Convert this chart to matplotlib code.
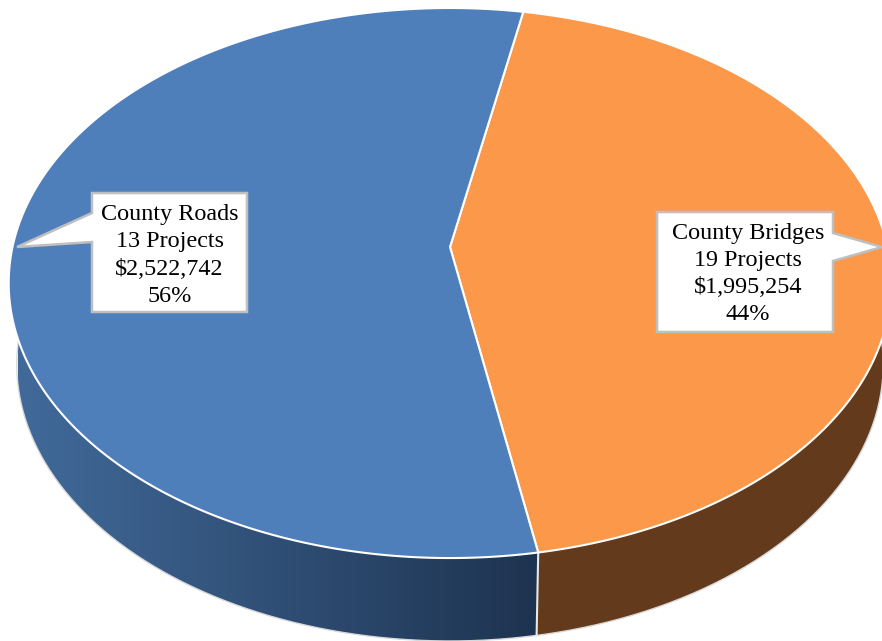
import numpy as np
import matplotlib.pyplot as plt
from matplotlib.colors import LinearSegmentedColormap
from matplotlib.patches import Polygon

categories = ["County Bridges", "County Roads"]
projects = [19, 13]
amounts = [1995254, 2522742]

top_colors = ["#fb984a", "#4f7fbb"]
start_angle = 10.9

# perspective of the pie, pixels
tilt = 0.131
W, H = 882, 641


def rim(theta, a, b, y0, x0=450):
    # theta in degrees, clockwise from the top of the circle
    t = np.radians(theta)
    px, py = np.sin(t), np.cos(t)
    d = 1 + tilt * py
    return x0 + a * px / d, y0 - b * py / d


def top_rim(theta):
    return rim(theta, 437.5, 270.3, 247)


def low_rim(theta):
    return rim(theta, 429.5, 272, 328)


shares = np.array(amounts) / sum(amounts)
edges = start_angle + np.concatenate([[0], np.cumsum(shares) * 360])

fig = plt.figure(figsize=(W / 100, H / 100), dpi=100)
ax = fig.add_axes([0, 0, 1, 1])
ax.set_xlim(0, W)
ax.set_ylim(H, 0)
ax.axis("off")

# side walls
seam = edges[1]
th = np.linspace(seam, 270, 200)
xu, yu = top_rim(th)
xl, yl = low_rim(th)
wall = Polygon(
    np.r_[np.c_[xu, yu], np.c_[xl, yl][::-1]],
    closed=True,
    facecolor="none",
    edgecolor="none",
)
ax.add_patch(wall)
cmap = LinearSegmentedColormap.from_list("side", ["#416a9a", "#1e3350"])
img = ax.imshow(
    np.linspace(0, 1, 256).reshape(1, -1),
    extent=[18, 538, H, 0],
    cmap=cmap,
    aspect="auto",
    zorder=1,
)
img.set_clip_path(wall)
ax.set_xlim(0, W)
ax.set_ylim(H, 0)
ax.plot(xl, yl, color="#d9d9d9", lw=1, zorder=2)

th = np.linspace(edges[0], seam, 200)
xu, yu = top_rim(th)
xl, yl = low_rim(th)
ax.add_patch(
    Polygon(
        np.r_[np.c_[xu, yu], np.c_[xl, yl][::-1]],
        closed=True,
        facecolor="#633a1c",
        edgecolor="none",
        zorder=1,
    )
)
ax.plot(xl, yl, color="#d9d9d9", lw=1, zorder=2)

# seam between the two walls
sx0, sy0 = top_rim(seam)
sx1, sy1 = low_rim(seam)
ax.plot([sx0, sx1], [sy0, sy1], color="#e8e8e8", lw=1.5, zorder=2)

# top face
cx, cy = top_rim(0)[0], 247
for i in range(2):
    th = np.linspace(edges[i], edges[i + 1], 300)
    x, y = top_rim(th)
    ax.add_patch(
        Polygon(
            np.r_[[[cx, cy]], np.c_[x, y]],
            closed=True,
            facecolor=top_colors[i],
            edgecolor="white",
            lw=1.5,
            joinstyle="round",
            zorder=3,
        )
    )

# callouts
box_right = [(657, 212), (833, 212), (833, 233), (882, 247), (833, 261), (833, 332), (657, 332)]
box_left = [(92, 193), (247, 193), (247, 312), (92, 312), (92, 242), (17, 247), (92, 213)]
label_pos = [(748, 274), (169.5, 255.5)]

for box, pos, name, n, amount, share in zip(
    [box_right, box_left], label_pos, categories, projects, amounts, shares
):
    ax.add_patch(
        Polygon(box, closed=True, facecolor="white", edgecolor="#bfbfbf", lw=1.8, zorder=4)
    )
    ax.text(
        pos[0],
        pos[1],
        f"{name}\n{n} Projects\n${amount:,}\n{share:.0%}",
        ha="center",
        va="center",
        ma="center",
        family="Liberation Serif",
        size=17.4,
        linespacing=1.39,
        color="black",
        zorder=5,
    )

fig.savefig("out.png", dpi=100)
